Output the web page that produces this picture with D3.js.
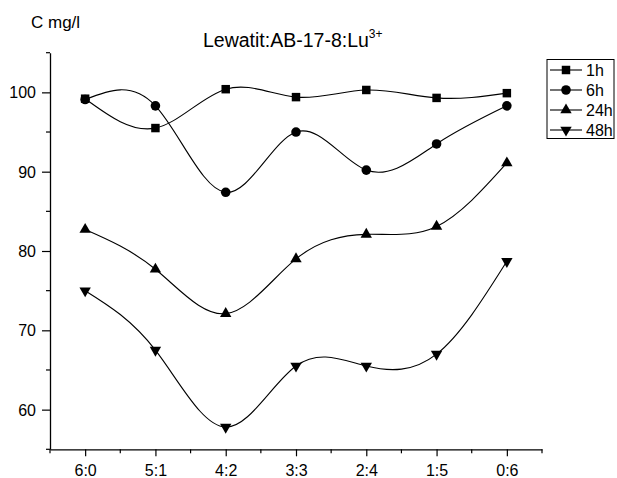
<!DOCTYPE html>
<html>
<head>
<meta charset="utf-8">
<script src="https://cdn.jsdelivr.net/npm/d3@7"></script>
<style>
  body { margin: 0; background: #fff; }
  text { font-family: Arial, "Liberation Sans", sans-serif; fill: #000; }
</style>
</head>
<body>
<div id="chart"></div>
<script>
// ratios on x axis
const categories = ["6:0", "5:1", "4:2", "3:3", "2:4", "1:5", "0:6"];
const seriesNames = ["1h", "6h", "24h", "48h"];
const h1  = [99.2, 95.5, 100.4, 99.4, 100.3, 99.3, 99.9];
const h6  = [99.1, 98.3, 87.4, 95.0, 90.2, 93.5, 98.3];
const h24 = [82.7, 77.7, 72.1, 79.0, 82.1, 83.1, 91.1];
const h48 = [75.0, 67.5, 57.8, 65.5, 65.5, 67.0, 78.7];
const yTicks = [60, 70, 80, 90, 100];
const yMinor = [55, 65, 75, 85, 95, 105];

const allSeries = [h1, h6, h24, h48];
const symbols = [d3.symbolSquare, d3.symbolCircle, d3.symbolTriangle, d3.symbolTriangle];
const symSize = [72, 72, 56, 56];
const symRot = [0, 0, 0, 180];

const width = 617;
const height = 478;
const svg = d3.select("#chart")
              .append("svg")
              .attr("width", width)
              .attr("height", height);

let x = d3.scaleLinear().domain([-0.5, 6.5]).range([50, 542]);
let y = d3.scaleLinear().domain([55, 105]).range([449.3, 52.7]);

// axes
let gx = svg.append("g").attr("transform", "translate(0,449.3)");
gx.call(d3.axisBottom(x).tickValues(d3.range(7)).tickFormat(i => categories[i]).tickSize(7).tickSizeOuter(0));
gx.append("g").selectAll("line")
  .data(d3.range(-0.5, 7, 1))
  .join("line")
    .attr("x1", d => x(d)).attr("x2", d => x(d))
    .attr("y1", 0).attr("y2", 4)
    .attr("stroke", "#000").attr("stroke-width", 1.2);

let gy = svg.append("g").attr("transform", "translate(50,0)");
gy.call(d3.axisLeft(y).tickValues(yTicks).tickSize(8).tickSizeOuter(0));
gy.append("g").selectAll("line")
  .data(yMinor)
  .join("line")
    .attr("x1", 0).attr("x2", -4)
    .attr("y1", d => y(d)).attr("y2", d => y(d))
    .attr("stroke", "#000").attr("stroke-width", 1.2);

svg.selectAll(".domain").attr("stroke", "#000").attr("stroke-width", 1.3);
svg.selectAll(".tick line").attr("stroke", "#000").attr("stroke-width", 1.2);
svg.selectAll(".tick text")
   .style("font-family", "Arial, 'Liberation Sans', sans-serif")
   .attr("font-size", 16);
gx.selectAll(".tick text").attr("dy", null).attr("y", 27);
gy.selectAll(".tick text").attr("x", -14).attr("dy", "0.35em");

// curves
let line = d3.line()
  .x((d, i) => x(i))
  .y(d => y(d))
  .curve(d3.curveNatural);

svg.append("g")
  .selectAll("path")
  .data(allSeries)
  .join("path")
    .attr("d", d => line(d))
    .attr("fill", "none")
    .attr("stroke", "#000")
    .attr("stroke-width", 1.1);

// markers
allSeries.forEach(function(s, k) {
  svg.append("g")
    .selectAll("path")
    .data(s)
    .join("path")
      .attr("d", d3.symbol().type(symbols[k]).size(symSize[k]))
      .attr("transform", (d, i) => "translate(" + x(i) + "," + y(d) + ") rotate(" + symRot[k] + ")")
      .attr("fill", "#000");
});

// labels
svg.append("text")
  .attr("x", 31).attr("y", 28)
  .attr("font-size", 17)
  .text("C mg/l");

let title = svg.append("text")
  .attr("x", 203).attr("y", 47)
  .attr("font-size", 19.5);
title.append("tspan").text("Lewatit:AB-17-8:Lu");
title.append("tspan").attr("font-size", 12).attr("dy", -9).text("3+");

// legend
let lg = svg.append("g");
lg.append("rect")
  .attr("x", 547).attr("y", 59.5)
  .attr("width", 67).attr("height", 79)
  .attr("fill", "#fff").attr("stroke", "#000").attr("stroke-width", 1);

seriesNames.forEach(function(name, k) {
  let ly = 70 + k * 20;
  lg.append("line")
    .attr("x1", 550).attr("x2", 582)
    .attr("y1", ly).attr("y2", ly)
    .attr("stroke", "#000").attr("stroke-width", 1.1);
  lg.append("path")
    .attr("d", d3.symbol().type(symbols[k]).size(symSize[k]))
    .attr("transform", "translate(566," + ly + ") rotate(" + symRot[k] + ")")
    .attr("fill", "#000");
  lg.append("text")
    .attr("x", 586).attr("y", ly)
    .attr("dy", "0.35em")
    .attr("font-size", 16)
    .text(name);
});
</script>
</body>
</html>
